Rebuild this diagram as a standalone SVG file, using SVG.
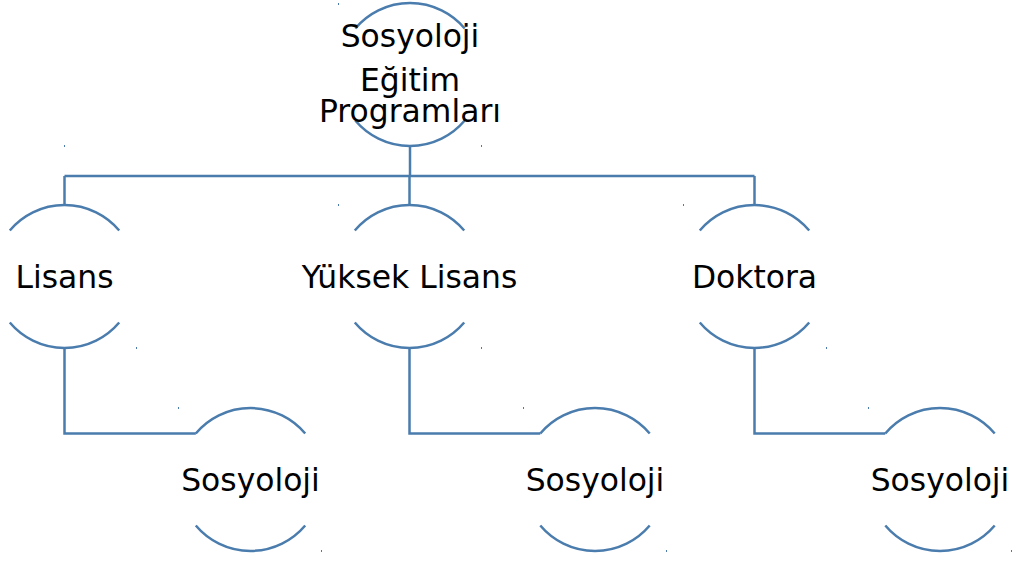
<svg xmlns="http://www.w3.org/2000/svg" width="1013" height="561" viewBox="0 0 1013 561">
  <style>
    .arc { fill: none; stroke: #4a7cad; stroke-width: 2.5; }
    .conn { fill: none; stroke: #4a7cad; stroke-width: 2.5; }
    .lbl { font-family: "DejaVu Sans", "Noto Sans", sans-serif; font-size: 31.4px; fill: #000; text-anchor: middle; }
    .dot { fill: #4a7cad; }
  </style>
  <rect width="1013" height="561" fill="#fff"/>
  <g id="connectors">
    <path class="conn" d="M410,146 V176"/>
    <path class="conn" d="M64.5,176 H754.5"/>
    <path class="conn" d="M64.5,176 V205"/>
    <path class="conn" d="M409.5,176 V205"/>
    <path class="conn" d="M754.5,176 V205"/>
    <path class="conn" d="M64.5,348 V433.5 H195.8"/>
    <path class="conn" d="M409.5,348 V433.5 H540.3"/>
    <path class="conn" d="M754.5,348 V433.5 H885.3"/>
  </g>
  <g id="node-root">
    <path class="arc" d="M355.3,28.5 A71.5,71.5 0 0 1 464.7,28.5"/>
    <path class="arc" d="M355.3,120.5 A71.5,71.5 0 0 0 464.7,120.5"/>
    <text class="lbl" x="410" y="47">Sosyoloji</text>
    <text class="lbl" x="410" y="91">Eğitim</text>
    <text class="lbl" x="410" y="122">Programları</text>
  </g>
  <g id="node-lisans">
    <path class="arc" d="M9.8,230.5 A71.5,71.5 0 0 1 119.2,230.5"/>
    <path class="arc" d="M9.8,322.5 A71.5,71.5 0 0 0 119.2,322.5"/>
    <text class="lbl" x="64.5" y="288">Lisans</text>
  </g>
  <g id="node-yuksek-lisans">
    <path class="arc" d="M354.8,230.5 A71.5,71.5 0 0 1 464.2,230.5"/>
    <path class="arc" d="M354.8,322.5 A71.5,71.5 0 0 0 464.2,322.5"/>
    <text class="lbl" x="409.5" y="288">Yüksek Lisans</text>
  </g>
  <g id="node-doktora">
    <path class="arc" d="M699.8,230.5 A71.5,71.5 0 0 1 809.2,230.5"/>
    <path class="arc" d="M699.8,322.5 A71.5,71.5 0 0 0 809.2,322.5"/>
    <text class="lbl" x="754.5" y="288">Doktora</text>
  </g>
  <g id="node-sosyoloji-1">
    <path class="arc" d="M195.8,433.5 A71.5,71.5 0 0 1 305.2,433.5"/>
    <path class="arc" d="M195.8,525.5 A71.5,71.5 0 0 0 305.2,525.5"/>
    <text class="lbl" x="250.5" y="491">Sosyoloji</text>
  </g>
  <g id="node-sosyoloji-2">
    <path class="arc" d="M540.3,433.5 A71.5,71.5 0 0 1 649.7,433.5"/>
    <path class="arc" d="M540.3,525.5 A71.5,71.5 0 0 0 649.7,525.5"/>
    <text class="lbl" x="595" y="491">Sosyoloji</text>
  </g>
  <g id="node-sosyoloji-3">
    <path class="arc" d="M885.3,433.5 A71.5,71.5 0 0 1 994.7,433.5"/>
    <path class="arc" d="M885.3,525.5 A71.5,71.5 0 0 0 994.7,525.5"/>
    <text class="lbl" x="940" y="491">Sosyoloji</text>
  </g>
  <g id="marks">
    <rect class="dot" x="338" y="3" width="1" height="2"/>
    <rect class="dot" x="481" y="145" width="1" height="2"/>
    <rect class="dot" x="64" y="145" width="1" height="2"/>
    <rect class="dot" x="338" y="204" width="1" height="2"/>
    <rect class="dot" x="481" y="347" width="1" height="2"/>
    <rect class="dot" x="136" y="347" width="1" height="2"/>
    <rect class="dot" x="683" y="204" width="1" height="2"/>
    <rect class="dot" x="826" y="347" width="1" height="2"/>
    <rect class="dot" x="178" y="407" width="1" height="2"/>
    <rect class="dot" x="321" y="550" width="1" height="2"/>
    <rect class="dot" x="523" y="407" width="1" height="2"/>
    <rect class="dot" x="666" y="550" width="1" height="2"/>
    <rect class="dot" x="868" y="407" width="1" height="2"/>
    <rect class="dot" x="1011" y="550" width="1" height="2"/>
  </g>
</svg>
